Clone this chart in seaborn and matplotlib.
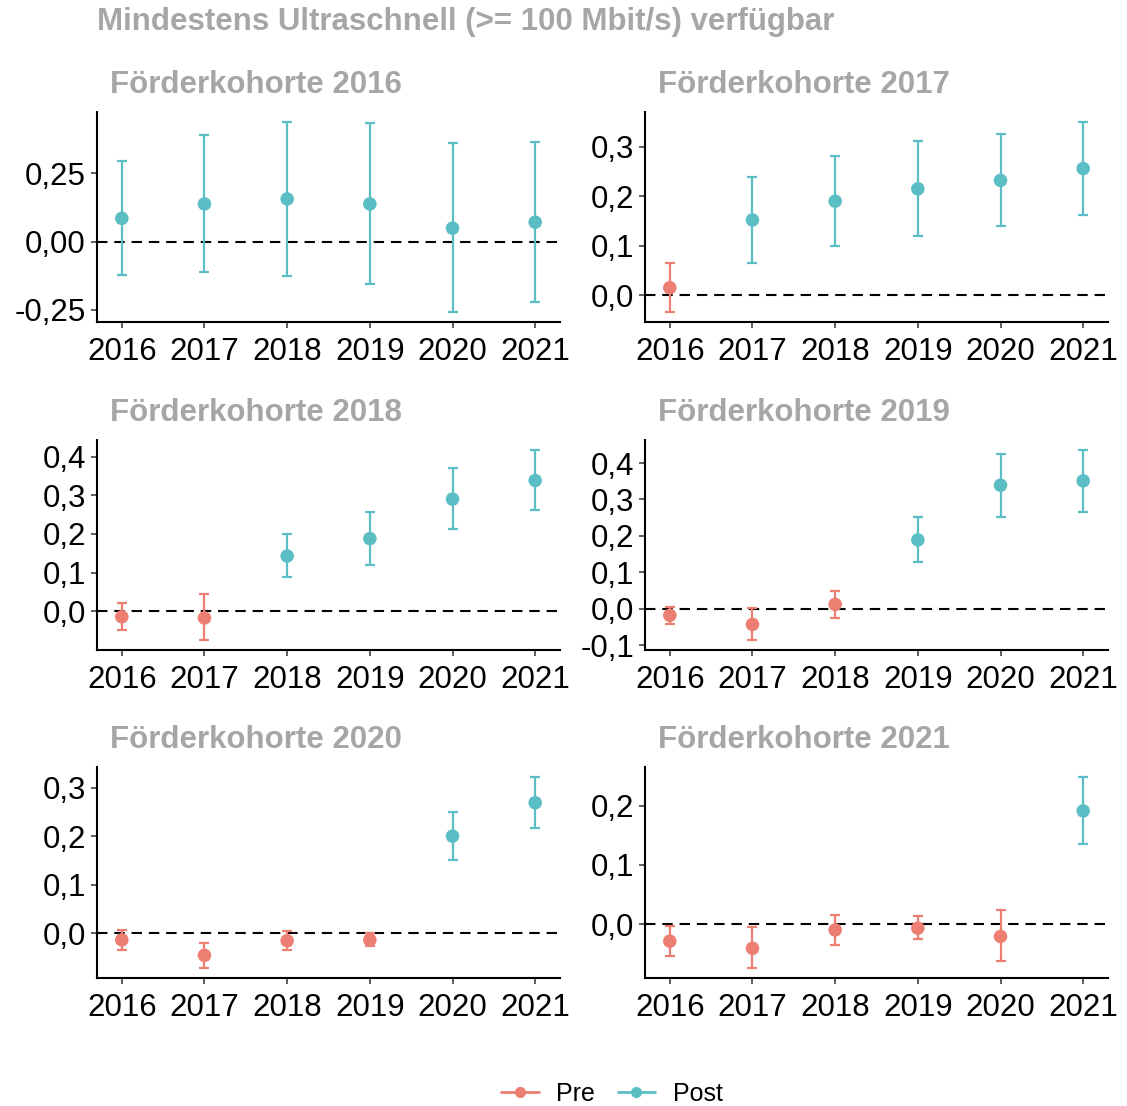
import matplotlib
matplotlib.use("Agg")
import matplotlib.pyplot as plt
from matplotlib.ticker import FuncFormatter, MultipleLocator
from matplotlib.lines import Line2D
import seaborn as sns
import numpy as np
import pandas as pd

sns.set_theme(style="ticks")
plt.rcParams["font.family"] = ["Liberation Sans", "DejaVu Sans"]
plt.rcParams["text.color"] = "black"

# ---- data ----
years = [2016, 2017, 2018, 2019, 2020, 2021]
cohorts = [2016, 2017, 2018, 2019, 2020, 2021]

est_2016 = [0.085, 0.138, 0.156, 0.138, 0.049, 0.071]
lo_2016 = [-0.124, -0.112, -0.125, -0.157, -0.260, -0.220]
hi_2016 = [0.296, 0.392, 0.440, 0.436, 0.360, 0.364]

est_2017 = [0.015, 0.152, 0.190, 0.215, 0.232, 0.256]
lo_2017 = [-0.035, 0.065, 0.100, 0.120, 0.140, 0.162]
hi_2017 = [0.065, 0.239, 0.281, 0.311, 0.326, 0.351]

est_2018 = [-0.014, -0.017, 0.143, 0.188, 0.290, 0.338]
lo_2018 = [-0.049, -0.075, 0.088, 0.121, 0.212, 0.262]
hi_2018 = [0.021, 0.044, 0.200, 0.256, 0.371, 0.418]

est_2019 = [-0.018, -0.043, 0.012, 0.189, 0.339, 0.351]
lo_2019 = [-0.042, -0.087, -0.026, 0.128, 0.252, 0.266]
hi_2019 = [0.006, 0.002, 0.049, 0.253, 0.426, 0.437]

est_2020 = [-0.014, -0.046, -0.016, -0.014, 0.200, 0.269]
lo_2020 = [-0.034, -0.073, -0.034, -0.026, 0.150, 0.217]
hi_2020 = [0.006, -0.020, 0.005, 0.001, 0.250, 0.323]

est_2021 = [-0.029, -0.041, -0.010, -0.007, -0.021, 0.191]
lo_2021 = [-0.054, -0.075, -0.035, -0.026, -0.063, 0.135]
hi_2021 = [-0.003, -0.005, 0.016, 0.013, 0.023, 0.249]

estimates = [est_2016, est_2017, est_2018, est_2019, est_2020, est_2021]
lowers = [lo_2016, lo_2017, lo_2018, lo_2019, lo_2020, lo_2021]
uppers = [hi_2016, hi_2017, hi_2018, hi_2019, hi_2020, hi_2021]

tick_steps = [0.25, 0.1, 0.1, 0.1, 0.1, 0.1]
tick_decimals = [2, 1, 1, 1, 1, 1]

palette = {"Pre": "#EC7F72", "Post": "#5BBEC4"}
title_grey = "#A6A6A6"


def comma_fmt(d):
    def f(v, pos):
        if abs(v) < 1e-9:
            v = 0.0
        return f"{v:.{d}f}".replace(".", ",")
    return FuncFormatter(f)


# ---- layout (pixels of a 1127x1106 canvas) ----
W, H = 1127, 1106
col_x = [(97, 560), (645, 1108)]
row_y = [(112, 322), (440, 650), (767, 978)]

fig = plt.figure(figsize=(W / 100, H / 100), dpi=100)

fig.text(97 / W, 1 - 22 / H, "Mindestens Ultraschnell (>= 100 Mbit/s) verfügbar",
         fontsize=22.5, fontweight="bold", color=title_grey, va="center", ha="left")

for i, cohort in enumerate(cohorts):
    r, c = divmod(i, 2)
    x0, x1 = col_x[c]
    y0, y1 = row_y[r]
    ax = fig.add_axes([x0 / W, 1 - y1 / H, (x1 - x0) / W, (y1 - y0) / H])

    df = pd.DataFrame({
        "year": years,
        "est": estimates[i],
        "lo": lowers[i],
        "hi": uppers[i],
    })
    df["phase"] = np.where(df["year"] < cohort, "Pre", "Post")

    ax.axhline(0, color="black", lw=1.5, ls=(0, (5, 3.3)), zorder=1)
    for phase, sub in df.groupby("phase"):
        ax.errorbar(sub["year"], sub["est"],
                    yerr=[sub["est"] - sub["lo"], sub["hi"] - sub["est"]],
                    fmt="none", ecolor=palette[phase], elinewidth=1.6,
                    capsize=3.8, capthick=1.6, zorder=2)
    sns.scatterplot(data=df, x="year", y="est", hue="phase", palette=palette,
                    s=95, edgecolor="none", legend=False, ax=ax, zorder=3)

    ax.set_xlim(2015.7, 2021.3)
    ax.set_xticks(years)
    ax.yaxis.set_major_locator(MultipleLocator(tick_steps[i]))
    ax.yaxis.set_major_formatter(comma_fmt(tick_decimals[i]))
    ax.set_xlabel("")
    ax.set_ylabel("")
    ax.tick_params(axis="both", labelsize=22.5, colors="#333333", labelcolor="black",
                   length=4, width=1.1)
    ax.tick_params(axis="x", pad=7)
    ax.tick_params(axis="y", pad=4)
    for s in ["top", "right"]:
        ax.spines[s].set_visible(False)
    for s in ["left", "bottom"]:
        ax.spines[s].set_color("black")
        ax.spines[s].set_linewidth(1.5)

    fig.text((x0 + 13) / W, 1 - (y0 - 27) / H, f"Förderkohorte {cohort}",
             fontsize=22.5, fontweight="bold", color=title_grey, va="center", ha="left")

handles = [Line2D([0], [0], color=palette[k], marker="o", lw=2, markersize=7)
           for k in ["Pre", "Post"]]
leg = fig.legend(handles, ["Pre", "Post"], loc="center", bbox_to_anchor=(0.543, 1 - 1094 / H),
                 ncol=2, frameon=False, fontsize=18, handlelength=1.5, handletextpad=0.7,
                 columnspacing=0.9)
for t in leg.get_texts():
    t.set_color("black")

fig.savefig("out.png", dpi=100)
